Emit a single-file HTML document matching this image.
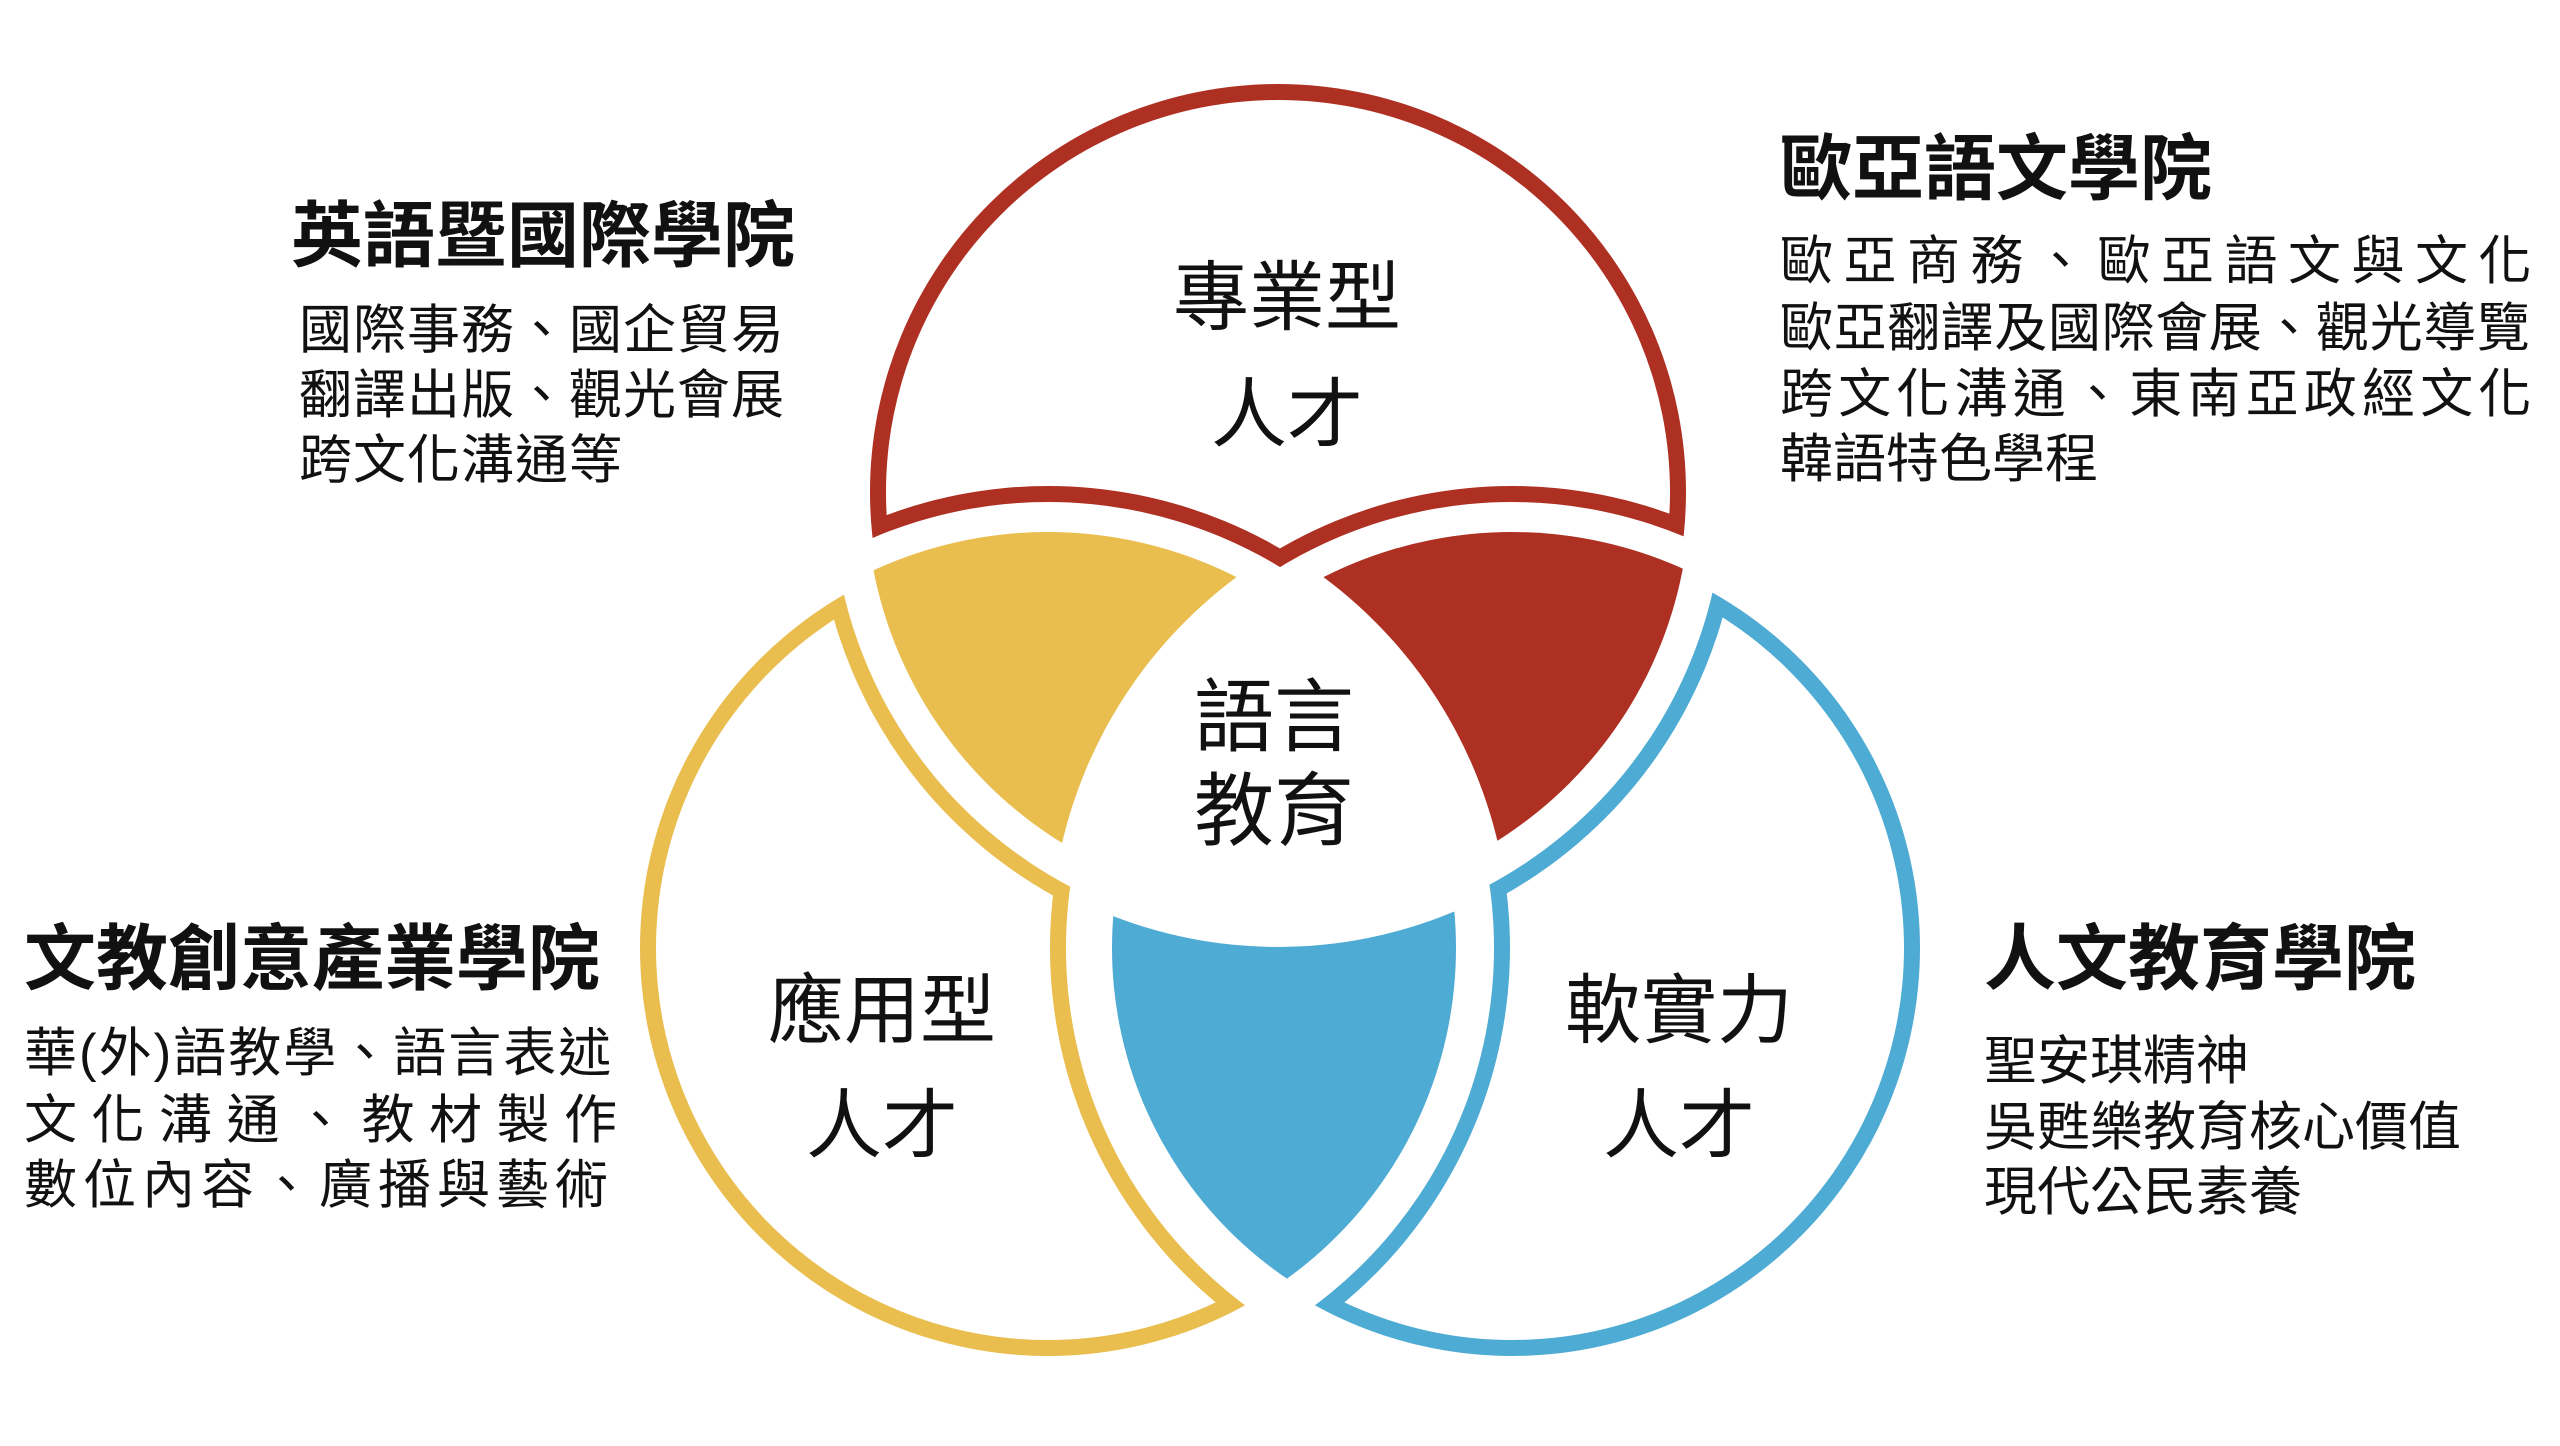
<!DOCTYPE html>
<html><head><meta charset="utf-8"><style>
html,body{margin:0;padding:0;background:#fff;}
body{width:2560px;height:1446px;position:relative;overflow:hidden;font-family:"Liberation Sans","Noto Sans CJK TC",sans-serif;color:#111;}
.t{position:absolute;white-space:nowrap;line-height:1;}
.c{transform:translateX(-50%);}
.big{font-size:76px;}
.h{font-size:72px;font-weight:bold;}
.s{font-size:53px;}
</style></head><body>
<svg width="2560" height="1446" style="position:absolute;left:0;top:0">
<defs>
<mask id="mR" maskUnits="userSpaceOnUse" x="0" y="0" width="2560" height="1446"><rect width="2560" height="1446" fill="#000"/><circle cx="1278" cy="492" r="408" fill="#fff"/><circle cx="1048" cy="948" r="446" fill="#000"/><circle cx="1512" cy="948" r="446" fill="#000"/></mask>
<mask id="mRi" maskUnits="userSpaceOnUse" x="0" y="0" width="2560" height="1446"><rect width="2560" height="1446" fill="#000"/><circle cx="1278" cy="492" r="392" fill="#fff"/><circle cx="1048" cy="948" r="462" fill="#000"/><circle cx="1512" cy="948" r="462" fill="#000"/></mask>
<mask id="mY" maskUnits="userSpaceOnUse" x="0" y="0" width="2560" height="1446"><rect width="2560" height="1446" fill="#000"/><circle cx="1048" cy="948" r="408" fill="#fff"/><circle cx="1278" cy="492" r="446" fill="#000"/><circle cx="1512" cy="948" r="446" fill="#000"/></mask>
<mask id="mYi" maskUnits="userSpaceOnUse" x="0" y="0" width="2560" height="1446"><rect width="2560" height="1446" fill="#000"/><circle cx="1048" cy="948" r="392" fill="#fff"/><circle cx="1278" cy="492" r="462" fill="#000"/><circle cx="1512" cy="948" r="462" fill="#000"/></mask>
<mask id="mB" maskUnits="userSpaceOnUse" x="0" y="0" width="2560" height="1446"><rect width="2560" height="1446" fill="#000"/><circle cx="1512" cy="948" r="408" fill="#fff"/><circle cx="1278" cy="492" r="446" fill="#000"/><circle cx="1048" cy="948" r="446" fill="#000"/></mask>
<mask id="mBi" maskUnits="userSpaceOnUse" x="0" y="0" width="2560" height="1446"><rect width="2560" height="1446" fill="#000"/><circle cx="1512" cy="948" r="392" fill="#fff"/><circle cx="1278" cy="492" r="462" fill="#000"/><circle cx="1048" cy="948" r="462" fill="#000"/></mask>
<clipPath id="cR"><circle cx="1278" cy="492" r="412"/></clipPath>
<clipPath id="cY"><circle cx="1048" cy="948" r="408"/></clipPath>
<mask id="lY" maskUnits="userSpaceOnUse" x="0" y="0" width="2560" height="1446"><rect width="2560" height="1446" fill="#000"/><circle cx="1048" cy="948" r="416" fill="#fff"/><circle cx="1512" cy="948" r="462" fill="#000"/></mask>
<mask id="lR" maskUnits="userSpaceOnUse" x="0" y="0" width="2560" height="1446"><rect width="2560" height="1446" fill="#000"/><circle cx="1512" cy="948" r="416" fill="#fff"/><circle cx="1048" cy="948" r="462" fill="#000"/></mask>
<mask id="lB" maskUnits="userSpaceOnUse" x="0" y="0" width="2560" height="1446"><rect width="2560" height="1446" fill="#000"/><circle cx="1512" cy="948" r="400" fill="#fff"/><circle cx="1278" cy="492" r="455" fill="#000"/></mask>
</defs>
<rect width="2560" height="1446" fill="#AE3023" mask="url(#mR)"/>
<rect width="2560" height="1446" fill="#E9BE4F" mask="url(#mY)"/>
<rect width="2560" height="1446" fill="#4EABD3" mask="url(#mB)"/>
<rect width="2560" height="1446" fill="#fff" mask="url(#mRi)"/>
<rect width="2560" height="1446" fill="#fff" mask="url(#mYi)"/>
<rect width="2560" height="1446" fill="#fff" mask="url(#mBi)"/>
<g clip-path="url(#cR)"><rect width="2560" height="1446" fill="#E9BE4F" mask="url(#lY)"/></g>
<g clip-path="url(#cR)"><rect width="2560" height="1446" fill="#AE3023" mask="url(#lR)"/></g>
<g clip-path="url(#cY)"><rect width="2560" height="1446" fill="#4EABD3" mask="url(#lB)"/></g>
</svg>

<div class="t c big" style="left:1287px;top:261px">專業型</div>
<div class="t c big" style="left:1287px;top:378px">人才</div>
<div class="t c big" style="left:1274px;top:678px;font-size:80px">語言</div>
<div class="t c big" style="left:1274px;top:772px;font-size:80px">教育</div>
<div class="t c big" style="left:882px;top:974px">應用型</div>
<div class="t c big" style="left:882px;top:1089px">人才</div>
<div class="t c big" style="left:1679px;top:974px">軟實力</div>
<div class="t c big" style="left:1679px;top:1089px">人才</div>

<div class="t h" style="left:291px;top:201px">英語暨國際學院</div>
<div class="t s" style="left:299px;top:304px;letter-spacing:1px">國際事務、國企貿易</div>
<div class="t s" style="left:299px;top:369px;letter-spacing:1px">翻譯出版、觀光會展</div>
<div class="t s" style="left:299px;top:434px;letter-spacing:1px">跨文化溝通等</div>

<div class="t h" style="left:1780px;top:134px">歐亞語文學院</div>
<div class="t s" style="left:1780px;top:235px;letter-spacing:10.5px">歐亞商務、歐亞語文與文化</div>
<div class="t s" style="left:1780px;top:302px;letter-spacing:0.6px">歐亞翻譯及國際會展、觀光導覽</div>
<div class="t s" style="left:1780px;top:368px;letter-spacing:5.2px">跨文化溝通、東南亞政經文化</div>
<div class="t s" style="left:1780px;top:433px">韓語特色學程</div>

<div class="t h" style="left:24px;top:924px">文教創意產業學院</div>
<div class="t s" style="left:24px;top:1027px;letter-spacing:2px">華(外)語教學、語言表述</div>
<div class="t s" style="left:24px;top:1094px;letter-spacing:14.5px">文化溝通、教材製作</div>
<div class="t s" style="left:24px;top:1159px;letter-spacing:6px">數位內容、廣播與藝術</div>

<div class="t h" style="left:1984px;top:924px">人文教育學院</div>
<div class="t s" style="left:1984px;top:1035px">聖安琪精神</div>
<div class="t s" style="left:1984px;top:1101px">吳甦樂教育核心價值</div>
<div class="t s" style="left:1984px;top:1166px">現代公民素養</div>
</body></html>
